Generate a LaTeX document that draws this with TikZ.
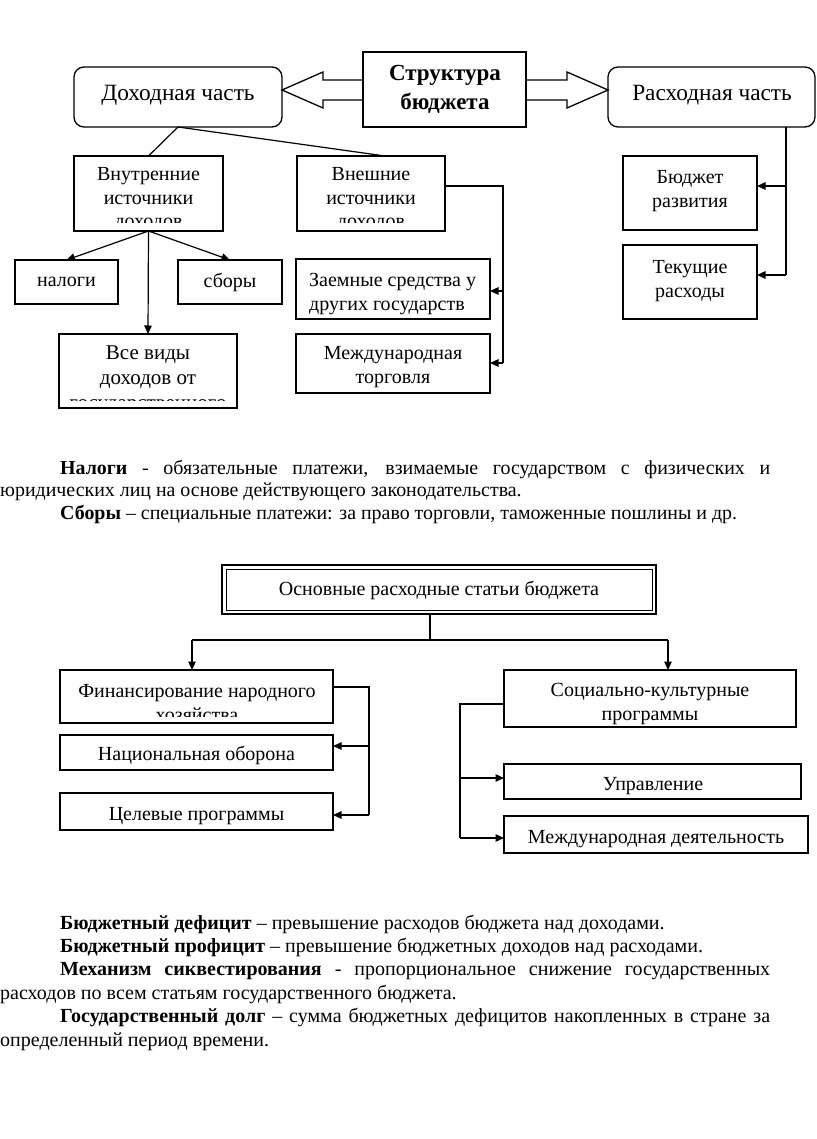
\documentclass[tikz,border=0pt]{standalone}
\usepackage{fontspec}
\setmainfont{Liberation Serif}
\usetikzlibrary{arrows.meta,calc}
\newcommand{\bx}[6]{\node[#1, anchor=north west, minimum width={(#5)-(#3)}, minimum height={(#6)-(#4)}] (#2) at (#3,#4) {};}
\tikzset{
  box/.style={draw, line width=1.3pt, inner sep=0pt, outer sep=0pt},
  rbox/.style={box, rounded corners=10pt},
  txt/.style={align=center, inner sep=0pt, font=\fontsize{20}{23.5}\selectfont},
  arr/.style={-{Triangle[length=8.5pt,width=7.5pt]}, line width=1.2pt},
  ln/.style={line width=1.2pt},
  blk/.style={line width=1.3pt, line join=miter},
  para/.style={anchor=north west, inner sep=0pt, text width=770pt, align=justify, font=\fontsize{19.9}{22.5}\selectfont}
}
\begin{document}
\begin{tikzpicture}[x=1pt,y=-1pt]
\useasboundingbox[fill=white] (0,0) rectangle (816,1139);
% ---------- top diagram ----------
\bx{rbox}{doh}{74}{67}{282}{127}
\node[txt, font=\fontsize{23.3}{27}\selectfont] (tdoh) at (178,95) {Доходная часть};
\bx{box}{str}{363}{52}{526}{127}
\node[txt, font=\bfseries\fontsize{23}{29}\selectfont] (tstr) at (445,89.5) {Структура\\бюджета};
\bx{rbox}{ras}{608}{67}{815}{127}
\node[txt, font=\fontsize{23.3}{27}\selectfont] (tras) at (712,95) {Расходная часть};
% block arrows
\draw[blk] (str.west |- 0,80) -- (323,80) -- (323,72) -- (doh.east |- 0,90) -- (323,108) -- (323,100) -- (str.west |- 0,100);
\draw[blk] (str.east |- 0,80) -- (567,80) -- (567,72) -- (ras.west |- 0,90) -- (567,108) -- (567,100) -- (str.east |- 0,100);

\bx{box}{vn}{74}{156}{223}{231}
\begin{scope}\clip (vn.north west) rectangle ($(vn.south east)+(0,-8)$);
\node[txt] (tvn) at (148.5,199.5) {Внутренние\\источники\\доходов};
\end{scope}
\bx{box}{vsh}{297}{156}{445}{231}
\begin{scope}\clip (vsh.north west) rectangle ($(vsh.south east)+(0,-8)$);
\node[txt] (tvsh) at (371,199.5) {Внешние\\источники\\доходов};
\end{scope}
\draw[ln] (doh.south) -- (vn.north);
\draw[ln] (doh.south) -- ($(vsh.north)+(14,0)$);

\bx{box}{nal}{15}{260}{118}{304}
\node[txt] (tnal) at (66.5,282) {налоги};
\bx{box}{sb}{178}{260}{282}{304}
\node[txt] (tsb) at (230,282) {сборы};
\bx{box}{vse}{59}{334}{237}{408}
\begin{scope}\clip (vse.north west) rectangle ($(vse.south east)+(0,-8)$);
\node[txt, font=\fontsize{21}{25}\selectfont] (tvse) at (148,380) {Все виды\\доходов от\\государственного};
\end{scope}
\draw[arr] (vn.south) -- (nal.north);
\draw[arr] (vn.south) -- (sb.north);
\draw[arr] (vn.south) -- (vse.north);

\bx{box}{zs}{296}{259}{490}{319}
\node[txt, align=left, anchor=west] (tzs) at (309,294) {Заемные средства у\\других государств};
\bx{box}{mt}{296}{334}{490}{393}
\node[txt] (tmt) at (393,367) {Международная\\торговля};
\draw[ln] (vsh.east |- 0,186) -- (503,186) -- (503,363);
\draw[arr] (503,291) -- (zs.east |- 0,291);
\draw[arr] (503,363) -- (mt.east |- 0,363);

\bx{box}{bud}{623}{156}{757}{230}
\node[txt] (tbud) at (690,191) {Бюджет\\развития};
\bx{box}{tek}{623}{245}{757}{319}
\node[txt] (ttek) at (690,281) {Текущие\\расходы};
\draw[ln] ($(ras.south east)+(-29,0)$) -- (786,275);
\draw[arr] (786,186) -- (bud.east |- 0,186);
\draw[arr] (786,275) -- (tek.east |- 0,275);

% ---------- text 1 ----------
\node[para] (p1) at (0,460) {\hspace*{60pt}\textbf{Налоги} - обязательные платежи, взимаемые государством с физических и\linebreak юридических лиц на основе действующего законодательства.\par
\hspace*{60pt}\textbf{Сборы} – специальные платежи: за право торговли, таможенные пошлины и др.};

% ---------- bottom diagram ----------
\bx{box}{osn}{222}{565}{656}{614}
\draw[line width=0.9pt] ($(osn.north west)+(4,4)$) rectangle ($(osn.south east)+(-4,-4)$);
\node[txt] (tosn) at (439,590) {Основные расходные статьи бюджета};
\coordinate (hl) at (192,640);
\coordinate (hr) at (668,640);
\draw[ln] ($(osn.south)+(-9,0)$) -- ($(osn.south)+(-9,26)$);
\draw[ln] (hl) -- (hr);

\bx{box}{fin}{60}{670}{333}{723}
\begin{scope}\clip (fin.north west) rectangle ($(fin.south east)+(0,-7)$);
\node[txt] (tfin) at (197,703) {Финансирование народного\\хозяйства};
\end{scope}
\bx{box}{nat}{60}{735}{333}{770}
\node[txt] (tnat) at (196.5,755) {Национальная оборона};
\bx{box}{cel}{60}{793}{333}{830}
\node[txt] (tcel) at (196.5,816) {Целевые программы};
\draw[arr] (hl) -- (hl |- fin.north);
\draw[ln] (fin.east |- 0,687) -- (369,687) -- (369,815);
\draw[arr] (369,746) -- (nat.east |- 0,746);
\draw[arr] (369,815) -- (cel.east |- 0,815);

\bx{box}{soc}{504}{670}{796}{727}
\node[txt] (tsoc) at (650,704) {Социально-культурные\\программы};
\bx{box}{upr}{504}{764}{801}{799}
\node[txt] (tupr) at (653,786) {Управление};
\bx{box}{md}{504}{816}{808}{853}
\node[txt] (tmd) at (656,839) {Международная деятельность};
\draw[arr] (hr) -- (hr |- soc.north);
\draw[ln] (soc.west |- 0,704) -- (460,704) -- (460,838);
\draw[arr] (460,778) -- (upr.west |- 0,778);
\draw[arr] (460,838) -- (md.west |- 0,838);

% ---------- text 2 ----------
\node[para, font=\fontsize{20}{23.4}\selectfont] (p2) at (0,914.5) {\hspace*{60pt}\textbf{Бюджетный дефицит} – превышение расходов бюджета над доходами.\par
\hspace*{60pt}\textbf{Бюджетный профицит} – превышение бюджетных доходов над расходами.\par
\hspace*{60pt}\textbf{Механизм сиквестирования} - пропорциональное снижение государственных\linebreak расходов по всем статьям государственного бюджета.\par
\hspace*{60pt}\textbf{Государственный долг} – сумма бюджетных дефицитов накопленных в стране за\linebreak определенный период времени.};
\end{tikzpicture}
\end{document}
